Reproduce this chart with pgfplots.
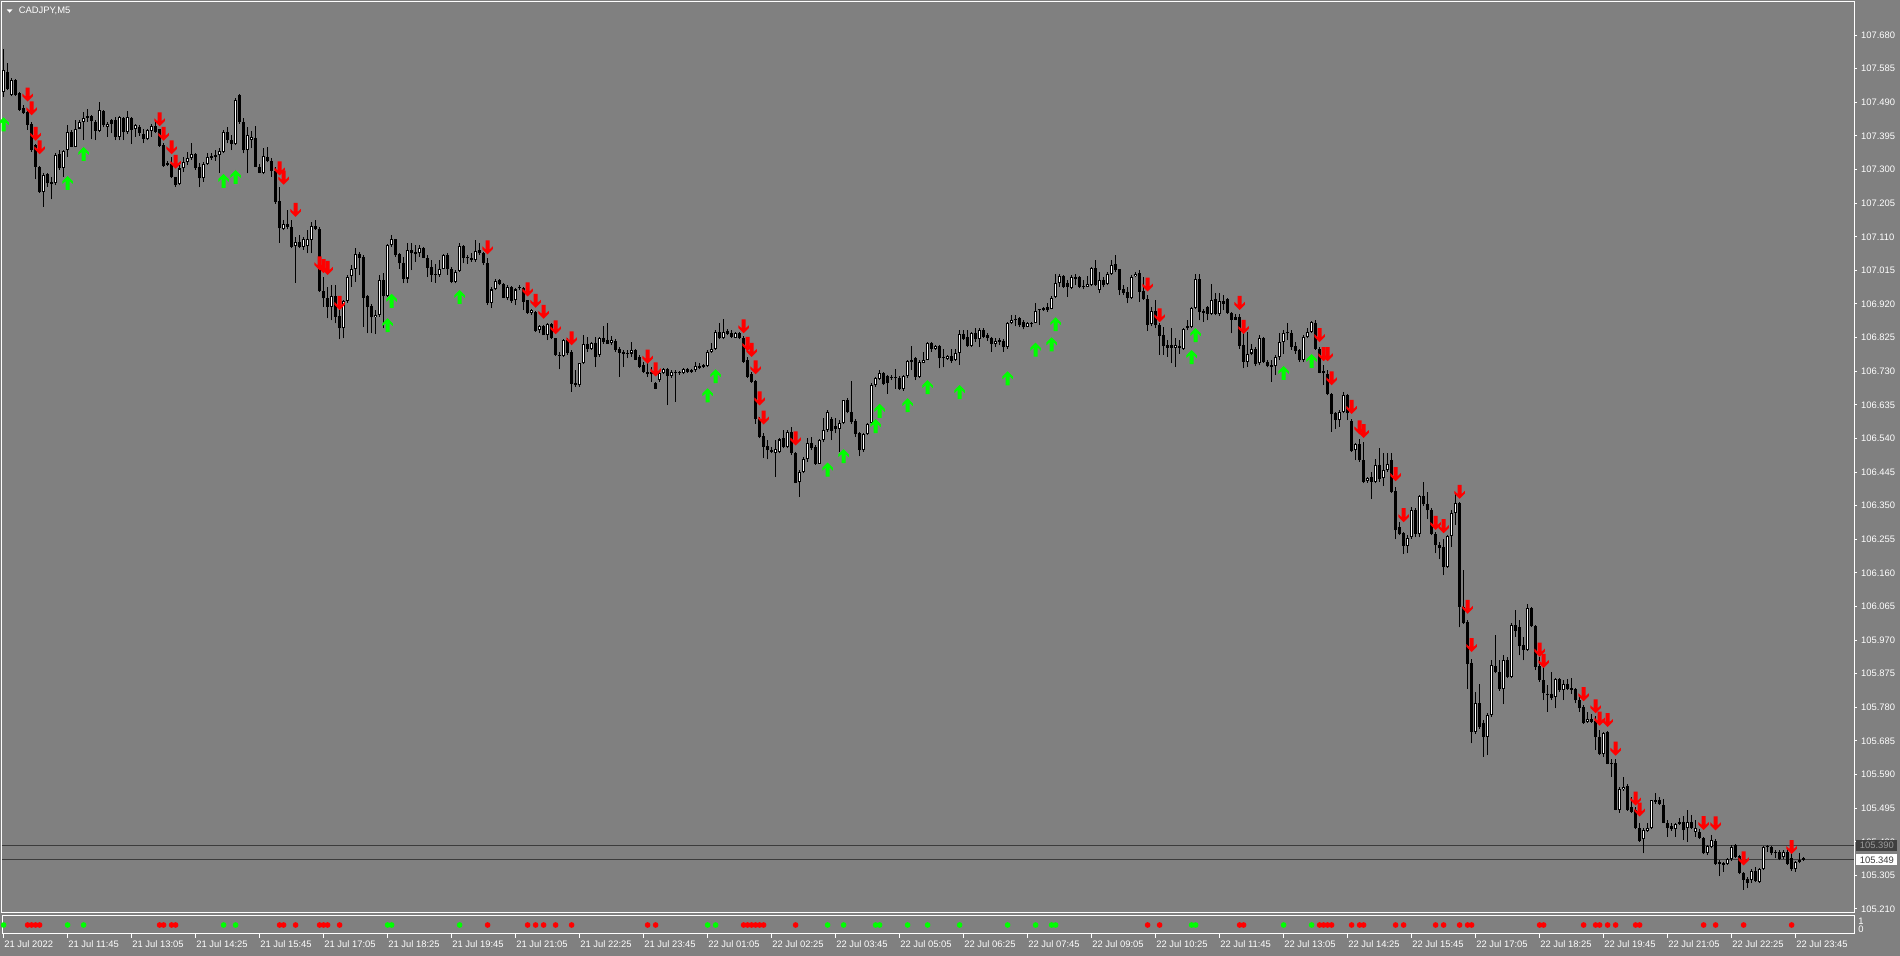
\documentclass[border=0pt]{standalone}
\usepackage{fontspec}
\setmainfont{Liberation Sans}
\usepackage{pgfplots}
\usepackage{pgfplotstable}
\pgfplotsset{compat=1.18}
\definecolor{bg}{HTML}{808080}
\definecolor{lineg}{HTML}{3C3C3C}
\definecolor{upg}{HTML}{00FF00}
\definecolor{dnr}{HTML}{FF0000}
\definecolor{dbox}{HTML}{3F3F3F}
\definecolor{dboxt}{HTML}{9A9A9A}
\newcommand{\lbl}{\fontsize{4.7pt}{5pt}\selectfont}
\pgfdeclareplotmark{dnarrow}{%
  \pgfpathmoveto{\pgfqpoint{0pt}{-3.5pt}}%
  \pgfpathlineto{\pgfqpoint{2.6pt}{-0.9pt}}%
  \pgfpathlineto{\pgfqpoint{2.6pt}{0.5pt}}%
  \pgfpathlineto{\pgfqpoint{1pt}{-1.0pt}}%
  \pgfpathlineto{\pgfqpoint{1pt}{3.5pt}}%
  \pgfpathlineto{\pgfqpoint{-1pt}{3.5pt}}%
  \pgfpathlineto{\pgfqpoint{-1pt}{-1.0pt}}%
  \pgfpathlineto{\pgfqpoint{-2.6pt}{0.5pt}}%
  \pgfpathlineto{\pgfqpoint{-2.6pt}{-0.9pt}}%
  \pgfpathclose\pgfusepathqfill}
\pgfdeclareplotmark{uparrow}{%
  \pgfpathmoveto{\pgfqpoint{0pt}{3.5pt}}%
  \pgfpathlineto{\pgfqpoint{2.6pt}{0.9pt}}%
  \pgfpathlineto{\pgfqpoint{2.6pt}{-0.5pt}}%
  \pgfpathlineto{\pgfqpoint{1pt}{1.0pt}}%
  \pgfpathlineto{\pgfqpoint{1pt}{-3.5pt}}%
  \pgfpathlineto{\pgfqpoint{-1pt}{-3.5pt}}%
  \pgfpathlineto{\pgfqpoint{-1pt}{1.0pt}}%
  \pgfpathlineto{\pgfqpoint{-2.6pt}{-0.5pt}}%
  \pgfpathlineto{\pgfqpoint{-2.6pt}{0.9pt}}%
  \pgfpathclose\pgfusepathqfill}

\pgfplotstableread{
i o h l c
0 107.520 107.642 107.506 107.581
1 107.577 107.600 107.525 107.529
2 107.511 107.558 107.509 107.553
3 107.553 107.556 107.508 107.511
4 107.515 107.520 107.465 107.468
5 107.473 107.482 107.457 107.459
6 107.463 107.468 107.412 107.426
7 107.430 107.435 107.350 107.355
8 107.369 107.372 107.272 107.308
9 107.308 107.310 107.235 107.237
10 107.237 107.289 107.195 107.285
11 107.287 107.289 107.252 107.261
12 107.266 107.280 107.216 107.259
13 107.261 107.346 107.256 107.341
14 107.344 107.355 107.299 107.303
15 107.305 107.355 107.280 107.352
16 107.355 107.426 107.336 107.407
17 107.407 107.412 107.363 107.365
18 107.365 107.440 107.363 107.416
19 107.416 107.440 107.414 107.435
20 107.435 107.463 107.383 107.445
21 107.451 107.470 107.435 107.445
22 107.451 107.454 107.385 107.437
23 107.435 107.440 107.383 107.410
24 107.410 107.492 107.407 107.468
25 107.465 107.468 107.419 107.426
26 107.421 107.435 107.393 107.430
27 107.440 107.443 107.402 107.430
28 107.440 107.449 107.383 107.393
29 107.393 107.451 107.383 107.449
30 107.447 107.449 107.383 107.405
31 107.405 107.466 107.400 107.449
32 107.447 107.449 107.372 107.412
33 107.414 107.430 107.393 107.426
34 107.421 107.426 107.395 107.402
35 107.400 107.416 107.374 107.386
36 107.386 107.416 107.383 107.412
37 107.410 107.430 107.393 107.423
38 107.423 107.440 107.404 107.407
39 107.414 107.416 107.365 107.366
40 107.369 107.374 107.308 107.310
41 107.319 107.325 107.310 107.313
42 107.317 107.336 107.275 107.278
43 107.278 107.280 107.252 107.256
44 107.259 107.313 107.256 107.303
45 107.303 107.336 107.294 107.322
46 107.322 107.350 107.313 107.334
47 107.332 107.374 107.327 107.344
48 107.344 107.348 107.299 107.303
49 107.308 107.319 107.250 107.275
50 107.275 107.322 107.266 107.317
51 107.317 107.346 107.313 107.336
52 107.334 107.346 107.327 107.338
53 107.341 107.355 107.325 107.336
54 107.340 107.360 107.291 107.353
55 107.350 107.412 107.346 107.405
56 107.405 107.421 107.374 107.383
57 107.383 107.397 107.355 107.372
58 107.372 107.501 107.369 107.496
59 107.511 107.513 107.430 107.435
60 107.435 107.445 107.346 107.355
61 107.355 107.421 107.289 107.397
62 107.383 107.410 107.360 107.391
63 107.388 107.423 107.306 107.308
64 107.308 107.317 107.289 107.291
65 107.291 107.360 107.287 107.338
66 107.336 107.365 107.320 107.325
67 107.325 107.334 107.280 107.297
68 107.297 107.308 107.204 107.209
69 107.211 107.252 107.093 107.134
70 107.133 107.157 107.129 107.146
71 107.146 107.186 107.131 107.137
72 107.139 107.157 107.077 107.082
73 107.084 107.110 106.980 107.096
74 107.096 107.115 107.077 107.082
75 107.082 107.110 107.073 107.103
76 107.084 107.129 107.063 107.105
77 107.102 107.152 107.063 107.140
78 107.140 107.157 107.129 107.133
79 107.133 107.138 106.954 106.956
80 106.956 106.997 106.912 106.936
81 106.938 106.969 106.879 106.912
82 106.912 106.973 106.874 106.942
83 106.942 106.973 106.865 106.884
84 106.886 106.903 106.820 106.851
85 106.851 106.931 106.823 106.928
86 106.929 107.002 106.923 106.995
87 107.000 107.030 106.969 107.020
88 107.020 107.077 106.983 107.061
89 107.061 107.068 107.002 107.051
90 107.053 107.058 106.856 106.937
91 106.942 106.945 106.837 106.912
92 106.914 106.921 106.837 106.882
93 106.882 106.903 106.835 106.890
94 106.889 107.002 106.884 106.989
95 106.989 107.008 106.851 106.942
96 106.942 107.089 106.940 107.086
97 107.086 107.115 107.082 107.103
98 107.103 107.105 107.053 107.058
99 107.061 107.065 107.020 107.035
100 107.036 107.053 106.978 106.992
101 106.992 107.093 106.978 107.072
102 107.072 107.091 107.016 107.063
103 107.066 107.086 107.039 107.060
104 107.063 107.086 107.053 107.077
105 107.077 107.082 107.049 107.051
106 107.051 107.058 106.997 107.023
107 107.025 107.044 106.983 107.002
108 107.002 107.033 106.980 107.003
109 107.002 107.044 106.997 107.020
110 107.020 107.061 107.018 107.058
111 107.058 107.063 107.002 107.020
112 107.020 107.025 106.978 106.983
113 106.983 107.016 106.978 107.011
114 107.014 107.091 107.011 107.084
115 107.084 107.086 107.035 107.051
116 107.049 107.058 107.033 107.050
117 107.051 107.063 107.039 107.044
118 107.044 107.100 107.039 107.070
119 107.072 107.091 107.058 107.063
120 107.063 107.068 107.030 107.035
121 107.035 107.049 106.917 106.923
122 106.923 106.969 106.910 106.961
123 106.961 106.992 106.959 106.986
124 106.987 106.992 106.973 106.976
125 106.976 106.978 106.936 106.938
126 106.936 106.973 106.931 106.969
127 106.969 106.970 106.923 106.928
128 106.931 106.964 106.917 106.961
129 106.966 106.973 106.959 106.964
130 106.964 106.969 106.903 106.926
131 106.931 106.931 106.893 106.895
132 106.895 106.907 106.889 106.903
133 106.898 106.900 106.841 106.844
134 106.846 106.860 106.837 106.857
135 106.857 106.860 106.832 106.832
136 106.832 106.865 106.818 106.863
137 106.863 106.867 106.820 106.823
138 106.823 106.825 106.773 106.776
139 106.776 106.785 106.735 106.773
140 106.773 106.820 106.771 106.818
141 106.818 106.823 106.776 106.782
142 106.785 106.790 106.672 106.695
143 106.697 106.733 106.686 106.690
144 106.690 106.754 106.686 106.752
145 106.752 106.832 106.750 106.808
146 106.808 106.827 106.785 106.792
147 106.792 106.813 106.790 106.810
148 106.810 106.827 106.743 106.769
149 106.776 106.827 106.771 106.823
150 106.823 106.857 106.808 106.813
151 106.818 106.867 106.808 106.808
152 106.809 106.829 106.804 106.818
153 106.816 106.820 106.785 106.790
154 106.792 106.799 106.714 106.782
155 106.785 106.790 106.743 106.778
156 106.782 106.790 106.766 106.780
157 106.780 106.813 106.771 106.790
158 106.790 106.794 106.761 106.763
159 106.771 106.776 106.738 106.743
160 106.747 106.757 106.726 106.728
161 106.728 106.757 106.714 106.722
162 106.722 106.743 106.700 106.728
163 106.696 106.700 106.679 106.681
164 106.705 106.733 106.700 106.724
165 106.724 106.738 106.722 106.735
166 106.735 106.738 106.634 106.716
167 106.716 106.733 106.712 106.728
168 106.728 106.733 106.644 106.724
169 106.728 106.731 106.720 106.724
170 106.726 106.738 106.722 106.735
171 106.735 106.738 106.726 106.728
172 106.733 106.736 106.726 106.728
173 106.733 106.757 106.728 106.744
174 106.744 106.752 106.735 106.738
175 106.743 106.750 106.740 106.747
176 106.744 106.790 106.743 106.785
177 106.785 106.809 106.782 106.794
178 106.794 106.846 106.790 106.842
179 106.842 106.865 106.820 106.823
180 106.823 106.879 106.820 106.842
181 106.844 106.848 106.832 106.835
182 106.837 106.846 106.823 106.827
183 106.825 106.842 106.823 106.839
184 106.837 106.842 106.820 106.823
185 106.825 106.829 106.754 106.757
186 106.761 106.771 106.712 106.714
187 106.722 106.728 106.697 106.700
188 106.702 106.705 106.581 106.594
189 106.594 106.601 106.540 106.543
190 106.547 106.554 106.484 106.517
191 106.518 106.535 106.481 106.507
192 106.507 106.517 106.498 106.502
193 106.500 106.535 106.432 106.509
194 106.502 106.540 106.498 106.537
195 106.540 106.564 106.512 106.517
196 106.517 106.564 106.512 106.559
197 106.559 106.573 106.493 106.498
198 106.500 106.502 106.413 106.415
199 106.418 106.451 106.375 106.446
200 106.446 106.488 106.441 106.481
201 106.481 106.540 106.474 106.528
202 106.526 106.545 106.507 106.512
203 106.517 106.521 106.465 106.469
204 106.469 106.537 106.468 106.535
205 106.535 106.597 106.531 106.564
206 106.564 106.620 106.559 106.615
207 106.594 106.601 106.535 106.562
208 106.575 106.597 106.554 106.566
209 106.566 106.592 106.502 106.584
210 106.584 106.650 106.582 106.648
211 106.648 106.653 106.611 106.615
212 106.615 106.702 106.582 106.587
213 106.590 106.594 106.545 106.552
214 106.554 106.559 106.490 106.507
215 106.507 106.556 106.502 106.552
216 106.552 106.584 106.550 106.582
217 106.584 106.696 106.582 106.691
218 106.691 106.714 106.686 106.710
219 106.707 106.733 106.705 106.726
220 106.726 106.728 106.691 106.694
221 106.716 106.719 106.667 106.696
222 106.712 106.719 106.705 106.713
223 106.712 106.735 106.681 106.711
224 106.712 106.716 106.677 106.679
225 106.679 106.719 106.675 106.716
226 106.716 106.761 106.712 106.759
227 106.757 106.801 106.733 106.763
228 106.766 106.771 106.705 106.714
229 106.714 106.761 106.710 106.757
230 106.754 106.785 106.752 106.763
231 106.763 106.813 106.761 106.810
232 106.810 106.813 106.785 106.792
233 106.794 106.804 106.790 106.801
234 106.801 106.804 106.738 106.766
235 106.766 106.794 106.741 106.771
236 106.765 106.776 106.763 106.773
237 106.773 106.794 106.754 106.759
238 106.763 106.792 106.759 106.782
239 106.782 106.846 106.747 106.834
240 106.834 106.846 106.818 106.820
241 106.827 106.846 106.799 106.801
242 106.801 106.841 106.799 106.837
243 106.837 106.851 106.813 106.820
244 106.820 106.851 106.799 106.846
245 106.846 106.851 106.823 106.827
246 106.832 106.837 106.816 106.825
247 106.825 106.827 106.785 106.807
248 106.807 106.823 106.799 106.815
249 106.818 106.823 106.804 106.813
250 106.816 106.820 106.785 106.799
251 106.799 106.870 106.794 106.867
252 106.867 106.889 106.863 106.876
253 106.874 106.889 106.857 106.875
254 106.879 106.882 106.856 106.860
255 106.870 106.874 106.848 106.854
256 106.856 106.870 106.854 106.867
257 106.867 106.870 106.854 106.863
258 106.867 106.922 106.865 106.900
259 106.902 106.907 106.860 106.903
260 106.903 106.912 106.901 106.909
261 106.912 106.923 106.898 106.903
262 106.907 106.942 106.905 106.938
263 106.940 107.006 106.938 106.978
264 106.978 107.004 106.969 106.999
265 106.999 107.002 106.964 106.969
266 106.978 106.987 106.940 106.969
267 106.966 107.002 106.961 106.995
268 106.992 107.006 106.973 106.995
269 106.995 106.999 106.964 106.969
270 106.971 106.987 106.961 106.967
271 106.969 106.999 106.967 106.976
272 106.973 107.025 106.971 107.023
273 107.023 107.044 106.971 106.973
274 106.959 107.011 106.950 106.987
275 106.989 106.995 106.967 106.973
276 106.976 107.011 106.973 107.004
277 107.004 107.044 107.002 107.030
278 107.033 107.058 107.011 107.016
279 107.018 107.020 106.945 106.959
280 106.961 106.973 106.945 106.952
281 106.954 106.969 106.922 106.936
282 106.936 107.002 106.933 106.997
283 106.999 107.011 106.995 107.006
284 107.008 107.016 106.926 106.954
285 106.957 106.997 106.931 106.933
286 106.933 106.945 106.844 106.862
287 106.863 106.912 106.857 106.901
288 106.901 106.931 106.851 106.860
289 106.860 106.865 106.776 106.829
290 106.832 106.854 106.776 106.801
291 106.803 106.818 106.771 106.797
292 106.803 106.851 106.752 106.797
293 106.797 106.823 106.743 106.804
294 106.802 106.818 106.780 106.797
295 106.794 106.851 106.790 106.848
296 106.851 106.876 106.846 106.857
297 106.854 106.912 106.851 106.910
298 106.910 107.006 106.907 106.992
299 106.992 107.006 106.874 106.898
300 106.901 106.907 106.870 106.895
301 106.912 106.914 106.874 106.893
302 106.893 106.976 106.888 106.931
303 106.933 106.950 106.888 106.893
304 106.893 106.950 106.886 106.929
305 106.929 106.945 106.903 106.921
306 106.933 106.936 106.893 106.895
307 106.895 106.898 106.837 106.876
308 106.876 106.893 106.874 106.882
309 106.882 106.893 106.794 106.801
310 106.804 106.846 106.738 106.757
311 106.757 106.841 106.742 106.780
312 106.780 106.808 106.775 106.794
313 106.794 106.799 106.744 106.750
314 106.752 106.832 106.747 106.825
315 106.823 106.827 106.752 106.757
316 106.757 106.761 106.741 106.744
317 106.747 106.761 106.700 106.742
318 106.744 106.775 106.719 106.769
319 106.769 106.837 106.761 106.813
320 106.813 106.846 106.780 106.839
321 106.841 106.865 106.818 106.837
322 106.837 106.846 106.790 106.799
323 106.801 106.813 106.780 106.788
324 106.790 106.794 106.757 106.761
325 106.761 106.832 106.757 106.827
326 106.827 106.851 106.823 106.841
327 106.841 106.872 106.839 106.870
328 106.865 106.874 106.790 106.794
329 106.794 106.799 106.724 106.726
330 106.731 106.747 106.691 106.724
331 106.722 106.733 106.662 106.665
332 106.667 106.669 106.559 106.609
333 106.612 106.615 106.568 106.592
334 106.592 106.620 106.573 106.615
335 106.615 106.672 106.611 106.662
336 106.662 106.667 106.592 106.611
337 106.590 106.594 106.502 106.505
338 106.507 106.528 106.479 106.524
339 106.524 106.537 106.474 106.479
340 106.479 106.531 106.413 106.418
341 106.420 106.432 106.415 106.427
342 106.432 106.446 106.370 106.418
343 106.418 106.483 106.413 106.465
344 106.465 106.512 106.418 106.424
345 106.427 106.498 106.405 106.452
346 106.452 106.498 106.446 106.469
347 106.479 106.498 106.386 106.389
348 106.392 106.403 106.255 106.281
349 106.290 106.304 106.267 106.271
350 106.273 106.276 106.213 106.236
351 106.236 106.267 106.215 106.260
352 106.260 106.347 106.257 106.339
353 106.337 106.342 106.262 106.271
354 106.271 106.380 106.260 106.377
355 106.377 106.418 106.349 106.354
356 106.354 106.389 106.311 106.337
357 106.339 106.342 106.267 106.270
358 106.270 106.276 106.215 106.239
359 106.239 106.248 106.198 106.229
360 106.234 106.257 106.154 106.177
361 106.177 106.267 106.175 106.264
362 106.264 106.337 106.234 106.330
363 106.330 106.385 106.295 106.358
364 106.358 106.361 106.006 106.064
365 106.064 106.168 106.015 106.019
366 106.022 106.027 105.833 105.902
367 105.904 105.918 105.678 105.711
368 105.711 105.824 105.706 105.793
369 105.791 105.846 105.720 105.725
370 105.736 105.744 105.640 105.697
371 105.697 105.763 105.645 105.758
372 105.758 105.913 105.753 105.899
373 105.897 105.984 105.876 105.881
374 105.881 105.913 105.827 105.831
375 105.831 105.928 105.789 105.913
376 105.913 105.923 105.862 105.866
377 105.866 106.017 105.864 106.012
378 106.012 106.056 105.979 105.996
379 106.007 106.026 105.927 105.953
380 105.956 105.979 105.913 105.943
381 105.943 106.072 105.940 106.062
382 106.062 106.064 106.007 106.009
383 106.009 106.012 105.885 105.894
384 105.896 105.923 105.852 105.857
385 105.857 105.894 105.800 105.821
386 105.819 105.843 105.767 105.814
387 105.817 105.880 105.800 105.805
388 105.810 105.864 105.777 105.861
389 105.861 105.864 105.824 105.829
390 105.829 105.857 105.800 105.847
391 105.847 105.861 105.829 105.833
392 105.836 105.864 105.817 105.830
393 105.833 105.836 105.791 105.800
394 105.802 105.814 105.767 105.777
395 105.781 105.786 105.734 105.736
396 105.739 105.767 105.736 105.746
397 105.748 105.761 105.736 105.739
398 105.741 105.755 105.659 105.695
399 105.695 105.715 105.645 105.648
400 105.648 105.711 105.640 105.708
401 105.711 105.714 105.619 105.621
402 105.623 105.635 105.584 105.621
403 105.623 105.633 105.489 105.491
404 105.491 105.555 105.482 105.548
405 105.548 105.582 105.544 105.555
406 105.557 105.563 105.487 105.491
407 105.497 105.527 105.482 105.485
408 105.489 105.499 105.435 105.438
409 105.438 105.452 105.400 105.403
410 105.407 105.438 105.367 105.433
411 105.431 105.452 105.428 105.440
412 105.438 105.519 105.435 105.518
413 105.513 105.538 105.508 105.518
414 105.518 105.527 105.504 105.506
415 105.504 105.522 105.452 105.454
416 105.454 105.461 105.414 105.438
417 105.444 105.452 105.431 105.435
418 105.435 105.452 105.414 105.450
419 105.450 105.466 105.447 105.456
420 105.456 105.472 105.405 105.433
421 105.438 105.489 105.400 105.456
422 105.456 105.475 105.435 105.438
423 105.428 105.461 105.414 105.438
424 105.428 105.435 105.409 105.412
425 105.412 105.414 105.365 105.367
426 105.367 105.390 105.362 105.388
427 105.384 105.419 105.381 105.405
428 105.403 105.409 105.334 105.337
429 105.337 105.348 105.303 105.343
430 105.341 105.343 105.315 105.334
431 105.337 105.353 105.334 105.350
432 105.350 105.390 105.346 105.386
433 105.390 105.393 105.353 105.358
434 105.359 105.362 105.308 105.312
435 105.312 105.315 105.265 105.292
436 105.296 105.301 105.268 105.284
437 105.292 105.322 105.284 105.318
438 105.318 105.329 105.287 105.290
439 105.287 105.327 105.284 105.322
440 105.322 105.388 105.320 105.384
441 105.384 105.390 105.372 105.386
442 105.386 105.388 105.362 105.367
443 105.372 105.376 105.353 105.367
444 105.372 105.376 105.348 105.350
445 105.356 105.378 105.350 105.372
446 105.372 105.381 105.334 105.337
447 105.353 105.367 105.318 105.322
448 105.322 105.346 105.315 105.343
449 105.343 105.367 105.339 105.348
450 105.355 105.358 105.346 105.349
}\candles

\pgfplotstableread{
i p
6 107.512
7 107.473
8 107.401
9 107.363
39 107.442
40 107.401
42 107.363
43 107.322
69 107.303
70 107.277
73 107.186
79 107.035
80 107.027
81 107.022
84 106.923
121 107.080
131 106.961
133 106.929
135 106.898
138 106.854
142 106.823
161 106.771
163 106.735
185 106.857
186 106.807
187 106.790
188 106.741
189 106.653
190 106.599
198 106.540
286 106.975
289 106.888
309 106.923
310 106.855
329 106.832
330 106.778
331 106.778
332 106.710
337 106.629
339 106.571
340 106.561
348 106.439
350 106.323
358 106.301
360 106.292
364 106.389
366 106.064
367 105.956
384 105.943
385 105.911
395 105.817
398 105.783
399 105.748
401 105.744
403 105.663
408 105.522
409 105.491
425 105.453
428 105.452
435 105.353
447 105.385
}\dnarr

\pgfplotstableread{
i p
0 107.428
16 107.262
20 107.344
55 107.268
58 107.279
96 106.860
97 106.929
114 106.940
176 106.662
178 106.716
206 106.452
210 106.490
218 106.575
219 106.618
226 106.634
231 106.685
239 106.671
251 106.710
258 106.791
262 106.806
263 106.863
297 106.770
298 106.832
320 106.725
327 106.759
}\uparr

\pgfplotstableread{
i v
6 0.5
7 0.5
8 0.5
9 0.5
39 0.5
40 0.5
42 0.5
43 0.5
69 0.5
70 0.5
73 0.5
79 0.5
80 0.5
81 0.5
84 0.5
121 0.5
131 0.5
133 0.5
135 0.5
138 0.5
142 0.5
161 0.5
163 0.5
185 0.5
186 0.5
187 0.5
188 0.5
189 0.5
190 0.5
198 0.5
286 0.5
289 0.5
309 0.5
310 0.5
329 0.5
330 0.5
331 0.5
332 0.5
337 0.5
339 0.5
340 0.5
348 0.5
350 0.5
358 0.5
360 0.5
364 0.5
366 0.5
367 0.5
384 0.5
385 0.5
395 0.5
398 0.5
399 0.5
401 0.5
403 0.5
408 0.5
409 0.5
425 0.5
428 0.5
435 0.5
447 0.5
}\reddots

\pgfplotstableread{
i v
0 0.5
16 0.5
20 0.5
55 0.5
58 0.5
96 0.5
97 0.5
114 0.5
176 0.5
178 0.5
206 0.5
210 0.5
218 0.5
219 0.5
226 0.5
231 0.5
239 0.5
251 0.5
258 0.5
262 0.5
263 0.5
297 0.5
298 0.5
320 0.5
327 0.5
}\greendots

\begin{document}
\begin{tikzpicture}
\path[use as bounding box] (0,0) rectangle (950pt,478pt);
\fill[bg] (0,0) rectangle (950pt,478pt);

\begin{axis}[
  at={(1pt,21.5pt)}, anchor=south west,
  scale only axis, width=926pt, height=455.5pt,
  xmin=-0.4, xmax=462.6, ymin=105.1987, ymax=107.7736,
  axis line style={draw=white, line width=0.5pt},
  xtick=\empty,
  ytick={105.210,105.305,105.400,105.495,105.590,105.685,105.780,105.875,105.970,106.065,106.160,106.255,106.350,106.445,106.540,106.635,106.730,106.825,106.920,107.015,107.110,107.205,107.300,107.395,107.490,107.585,107.680},
  yticklabels={105.210,105.305,105.400,105.495,105.590,105.685,105.780,105.875,105.970,106.065,106.160,106.255,106.350,106.445,106.540,106.635,106.730,106.825,106.920,107.015,107.110,107.205,107.300,107.395,107.490,107.585,107.680},
  ytick pos=right, yticklabel pos=right,
  tick align=outside, major tick length=1.5pt,
  major tick style={draw=white, line width=0.5pt},
  yticklabel style={font=\lbl, text=white, anchor=west, inner sep=0pt, xshift=1.85pt},
  clip mode=individual,
]
\addplot[lineg, line width=0.5pt, forget plot] coordinates {(-0.4,105.390) (462.6,105.390)};
\addplot[lineg, line width=0.5pt, forget plot] coordinates {(-0.4,105.349) (462.6,105.349)};
% wicks
\addplot[draw=none, mark=none, forget plot,
  error bars/.cd, y dir=plus, y explicit, error mark=none,
  error bar style={draw=black, solid, line width=0.5pt}]
  table[x=i, y=l, y error plus expr={\thisrow{h}-\thisrow{l}}]{\candles};
% bodies
\addplot[draw=none, mark=none, forget plot,
  error bars/.cd, y dir=plus, y explicit, error mark=none,
  error bar style={draw=black, solid, line width=1.5pt}]
  table[x=i, y expr={min(\thisrow{o},\thisrow{c})}, y error plus expr={max(abs(\thisrow{c}-\thisrow{o}),0.0028)}]{\candles};
% bull interiors
\addplot[draw=none, mark=none, forget plot,
  error bars/.cd, y dir=plus, y explicit, error mark=none,
  error bar style={draw=white, solid, line width=0.5pt}]
  table[x=i, y expr={(\thisrow{c}-\thisrow{o}>0.006) ? (\thisrow{o}+0.0029) : nan}, y error plus expr={\thisrow{c}-\thisrow{o}-0.0058}]{\candles};
% arrows
\addplot[only marks, mark=dnarrow, dnr, forget plot] table[x=i, y=p]{\dnarr};
\addplot[only marks, mark=uparrow, upg, forget plot] table[x=i, y=p]{\uparr};
% price boxes
\node[anchor=west, fill=dbox, text=dboxt, inner sep=0pt, minimum width=20.5pt, minimum height=5.5pt, font=\lbl, xshift=1pt] at (axis cs:462.6,105.390) {105.390};
\node[anchor=west, fill=white, text=lineg, inner sep=0pt, minimum width=20.5pt, minimum height=5.5pt, font=\lbl, xshift=1pt] at (axis cs:462.6,105.349) {105.349};
\end{axis}

\begin{axis}[
  at={(1pt,11pt)}, anchor=south west,
  scale only axis, width=926pt, height=9pt,
  xmin=-0.4, xmax=462.6, ymin=0, ymax=1,
  axis line style={draw=white, line width=0.5pt},
  ytick=\empty,
  xtick={0,16,32,48,64,80,96,112,128,144,160,176,192,208,224,240,256,272,288,304,320,336,352,368,384,400,416,432,448},
  xticklabels={21 Jul 2022,21 Jul 11:45,21 Jul 13:05,21 Jul 14:25,21 Jul 15:45,21 Jul 17:05,21 Jul 18:25,21 Jul 19:45,21 Jul 21:05,21 Jul 22:25,21 Jul 23:45,22 Jul 01:05,22 Jul 02:25,22 Jul 03:45,22 Jul 05:05,22 Jul 06:25,22 Jul 07:45,22 Jul 09:05,22 Jul 10:25,22 Jul 11:45,22 Jul 13:05,22 Jul 14:25,22 Jul 15:45,22 Jul 17:05,22 Jul 18:25,22 Jul 19:45,22 Jul 21:05,22 Jul 22:25,22 Jul 23:45},
  xtick pos=bottom, xticklabel pos=bottom,
  tick align=outside, major tick length=2pt,
  major tick style={draw=white, line width=0.5pt},
  xticklabel style={font=\lbl, text=white, anchor=west, inner sep=0pt, xshift=0.2pt, yshift=-3pt},
  clip=false,
]
\addplot[only marks, mark=*, mark size=1.2pt, dnr, forget plot] table[x=i, y=v]{\reddots};
\addplot[only marks, mark=*, mark size=1.2pt, upg, forget plot] table[x=i, y=v]{\greendots};
\end{axis}

\node[anchor=west, inner sep=0pt, text=white, font=\lbl] at (929pt,17.3pt) {1};
\node[anchor=west, inner sep=0pt, text=white, font=\lbl] at (929pt,13.6pt) {0};
\fill[white] (3.3pt,473.35pt) -- (6.3pt,473.35pt) -- (4.8pt,471.65pt) -- cycle;
\node[anchor=base west, inner sep=0pt, text=white, font=\lbl] at (9.2pt,471.0pt) {CADJPY,M5};
\end{tikzpicture}
\end{document}
